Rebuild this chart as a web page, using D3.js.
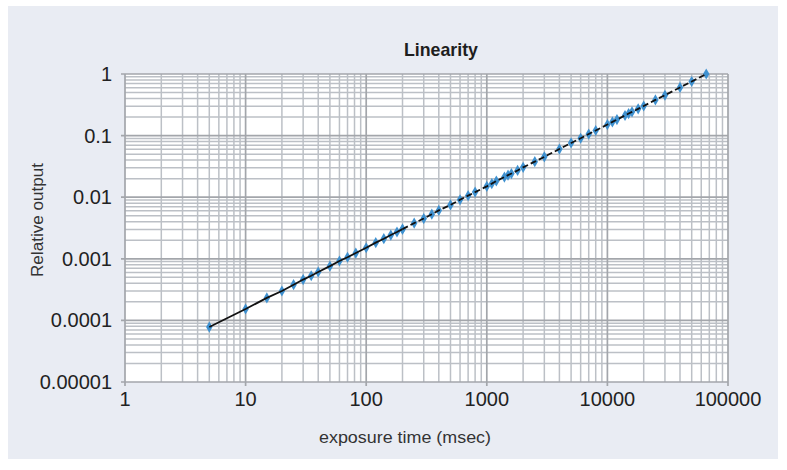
<!DOCTYPE html>
<html>
  <head>
    <meta charset="utf-8">
    <title>Linearity</title>
    <style>
      body {
        margin: 0px;
        overflow: hidden;
        background: white;
      }

      .panel {
        fill: #e9ecf3;
      }

      .plot-bg {
        fill: white;
      }

      .grid-minor {
        stroke: #bcc0c6;
        stroke-width: 1.5px;
      }

      .grid-major {
        stroke: #a3a6ab;
        stroke-width: 1.7px;
      }

      .tick-label {
        font-family: "Liberation Sans", Arial, sans-serif;
        font-size: 20px;
        fill: #222;
      }

      .axis-title {
        font-family: "Liberation Sans", Arial, sans-serif;
        font-size: 16px;
        fill: #333;
      }

      .title {
        font-family: "Liberation Sans", Arial, sans-serif;
        font-size: 19px;
        font-weight: bold;
        fill: #1e1e1e;
      }
    </style>
  </head>
  <body>
    <svg id="container" width="787" height="470"></svg>
    <script src="https://cdn.jsdelivr.net/npm/d3@7/dist/d3.min.js"></script>
    <script type="text/javascript">
      // exposure time (msec) and relative output
      var shortExposure = [5, 10, 15, 20, 25, 30, 35, 40, 50, 60, 70, 82, 100, 120, 140, 160, 180, 200];
      var shortOutput = [0.000078, 0.000153, 0.000232, 0.00030, 0.00038, 0.00046, 0.00053, 0.00061, 0.00076, 0.00092, 0.00106, 0.00124, 0.00151, 0.00183, 0.00212, 0.00243, 0.00272, 0.00303];

      var longExposure = [200, 250, 300, 350, 400, 500, 600, 700, 800, 1000, 1100, 1200, 1400, 1500, 1600, 1800, 2000, 2500, 3000, 4000, 5000, 6000, 7000, 8000, 10000, 11000, 12000, 14000, 15000, 16000, 18000, 20000, 25000, 30000, 40000, 50000, 66000];
      var longOutput = [0.00303, 0.0038, 0.0045, 0.0053, 0.0061, 0.0075, 0.0091, 0.0106, 0.0121, 0.0150, 0.0166, 0.0183, 0.0212, 0.0228, 0.0242, 0.0272, 0.0305, 0.0378, 0.0452, 0.0605, 0.0760, 0.0905, 0.106, 0.121, 0.151, 0.167, 0.182, 0.212, 0.228, 0.243, 0.272, 0.302, 0.380, 0.452, 0.605, 0.755, 1.0];

      var xTicks = [1, 10, 100, 1000, 10000, 100000];
      var xTickLabels = ['1', '10', '100', '1000', '10000', '100000'];
      var yTicks = [1, 0.1, 0.01, 0.001, 0.0001, 0.00001];
      var yTickLabels = ['1', '0.1', '0.01', '0.001', '0.0001', '0.00001'];

      var svg = d3.select('#container'),
        plotLeft = 125, plotRight = 728, plotTop = 74, plotBottom = 382;

      var x = d3.scaleLog().domain([1, 100000]).range([plotLeft, plotRight]);
      var y = d3.scaleLog().domain([0.00001, 1]).range([plotBottom, plotTop]);

      svg.append('rect').attr('class', 'panel')
        .attr('x', 8).attr('y', 6).attr('width', 770).attr('height', 453);

      svg.append('rect').attr('class', 'plot-bg')
        .attr('x', plotLeft).attr('y', plotTop)
        .attr('width', plotRight - plotLeft).attr('height', plotBottom - plotTop);

      /*
        grid: minor lines first, decade lines on top
      */
      var minorX = [], minorY = [];
      for (var d = 1; d < 100000; d *= 10) {
        for (var m = 2; m < 10; m++) minorX.push(d * m);
      }
      for (var e = 0; e < 5; e++) {
        for (var n = 2; n < 10; n++) minorY.push(n * Math.pow(10, e - 5));
      }

      var grid = svg.append('g');
      grid.selectAll('.vx').data(minorX).enter().append('line')
        .attr('class', 'grid-minor')
        .attr('x1', x).attr('x2', x).attr('y1', plotTop).attr('y2', plotBottom);
      grid.selectAll('.hy').data(minorY).enter().append('line')
        .attr('class', 'grid-minor')
        .attr('y1', y).attr('y2', y).attr('x1', plotLeft).attr('x2', plotRight);
      grid.selectAll('.mx').data(xTicks).enter().append('line')
        .attr('class', 'grid-major')
        .attr('x1', x).attr('x2', x).attr('y1', plotTop).attr('y2', plotBottom + 4);
      grid.selectAll('.my').data(yTicks).enter().append('line')
        .attr('class', 'grid-major')
        .attr('y1', y).attr('y2', y).attr('x1', plotLeft - 4).attr('x2', plotRight);

      // tick labels
      svg.append('g').selectAll('text').data(xTicks).enter().append('text')
        .attr('class', 'tick-label')
        .attr('text-anchor', 'middle')
        .attr('x', x).attr('y', plotBottom + 24)
        .text(function (t, i) { return xTickLabels[i]; });

      svg.append('g').selectAll('text').data(yTicks).enter().append('text')
        .attr('class', 'tick-label')
        .attr('text-anchor', 'end')
        .attr('x', plotLeft - 13).attr('y', function (t) { return y(t) + 7; })
        .text(function (t, i) { return yTickLabels[i]; });

      svg.append('text').attr('class', 'title')
        .attr('text-anchor', 'middle')
        .attr('x', 441).attr('y', 56)
        .attr('textLength', 74).attr('lengthAdjust', 'spacingAndGlyphs')
        .text('Linearity');

      svg.append('text').attr('class', 'axis-title')
        .attr('text-anchor', 'middle')
        .attr('x', 405).attr('y', 443)
        .attr('textLength', 172).attr('lengthAdjust', 'spacingAndGlyphs')
        .text('exposure time (msec)');

      svg.append('text').attr('class', 'axis-title')
        .attr('text-anchor', 'middle')
        .attr('transform', 'translate(43,220) rotate(-90)')
        .attr('textLength', 114).attr('lengthAdjust', 'spacingAndGlyphs')
        .text('Relative output');

      /*
        series
      */
      var shortPts = shortExposure.map(function (t, i) { return [t, shortOutput[i]]; });
      var longPts = longExposure.map(function (t, i) { return [t, longOutput[i]]; });
      var line = d3.line().x(function (p) { return x(p[0]); }).y(function (p) { return y(p[1]); });

      var marker = d3.symbol().type(d3.symbolDiamond).size(36);
      svg.append('g').selectAll('path').data(shortPts.concat(longPts)).enter().append('path')
        .attr('d', marker)
        .attr('fill', '#3f91d0')
        .attr('transform', function (p) { return 'translate(' + x(p[0]) + ',' + y(p[1]) + ')'; });

      svg.append('path').datum(shortPts)
        .attr('d', line)
        .attr('fill', 'none')
        .attr('stroke', '#111')
        .attr('stroke-width', 1.8);

      svg.append('path').datum(longPts)
        .attr('d', line)
        .attr('fill', 'none')
        .attr('stroke', '#111')
        .attr('stroke-width', 1.8)
        .attr('stroke-dasharray', '6,3');
    </script>
  </body>
</html>
